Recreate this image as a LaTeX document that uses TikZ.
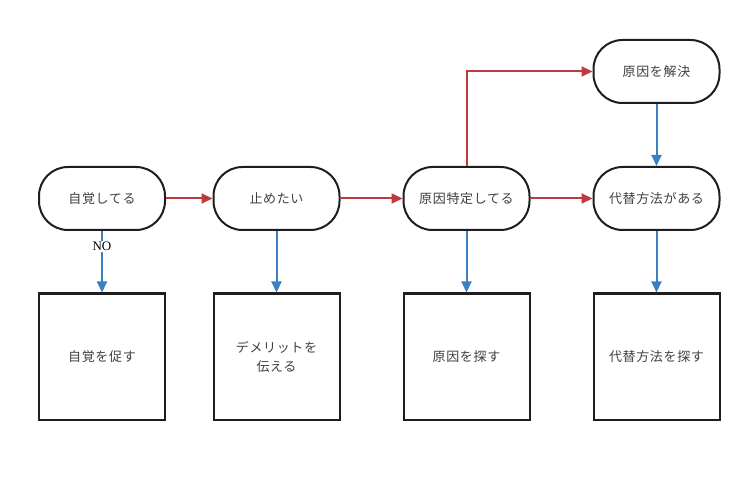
\documentclass[tikz,border=0pt]{standalone}
\usepackage{fontspec}
\setmainfont{Liberation Serif}
\newfontfamily\jp[LetterSpace=5]{Noto Sans CJK JP}
\usetikzlibrary{arrows.meta}
\definecolor{redarr}{HTML}{C1393E}
\definecolor{bluearr}{HTML}{3A80C2}
\definecolor{edge}{HTML}{1E1E1E}
\tikzset{
  pill/.style={draw=edge, line width=2pt, rounded corners=29pt, minimum width=126pt, minimum height=63pt, inner sep=0pt, font=\jp\fontsize{13}{15}\selectfont, text=black!75, align=center},
  sq/.style={draw=edge, line width=2pt, minimum width=126pt, minimum height=126pt, inner sep=0pt, font=\jp\fontsize{13}{19}\selectfont, text=black!75, align=center},
  ra/.style={draw=redarr, line width=2pt, -{Triangle[length=11pt,width=10pt]}},
  ba/.style={draw=bluearr, line width=2pt, -{Triangle[length=11pt,width=10pt]}},
}
\begin{document}
\begin{tikzpicture}[x=1pt,y=-1pt]
\useasboundingbox (0,0) rectangle (750,489);
\node[pill] (a) at (102,198.5) {自覚してる};
\node[pill] (b) at (276.5,198.5) {止めたい};
\node[pill] (c) at (466.5,198.5) {原因特定してる};
\node[pill] (d) at (656.5,198.5) {代替方法がある};
\node[pill] (e) at (656.5,71.5) {原因を解決};
\node[sq] (sa) at (102,356.5) {自覚を促す};
\node[sq] (sb) at (276.5,356.5) {デメリットを\\伝える};
\node[sq] (sc) at (466.5,356.5) {原因を探す};
\node[sq] (sd) at (656.5,356.5) {代替方法を探す};
\draw[ra] (a) -- (b);
\draw[ra] (b) -- (c);
\draw[ra] (c) -- (d);
\draw[ra] (c.north) |- (e.west);
\draw[ba] (e) -- (d);
\draw[ba] (a) -- node[fill=white, inner sep=1.5pt, font=\fontsize{13}{15}\selectfont, pos=0.25] (no) {NO} (sa);
\draw[ba] (b) -- (sb);
\draw[ba] (c) -- (sc);
\draw[ba] (d) -- (sd);
\end{tikzpicture}
\end{document}
